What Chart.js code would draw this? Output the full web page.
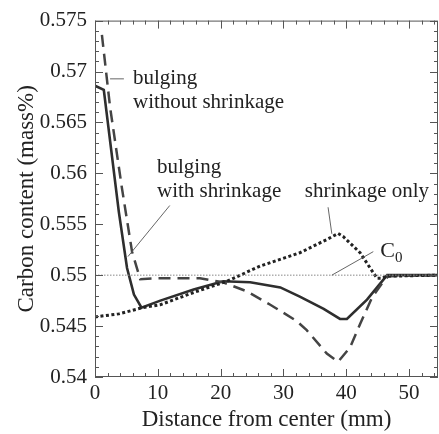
<!DOCTYPE html>
<html>
<head>
<meta charset="utf-8">
<script src="https://cdn.jsdelivr.net/npm/chart.js@4/dist/chart.umd.min.js"></script>
<style>
  html, body { margin: 0; padding: 0; background: #fff; }
  #wrap { width: 439px; height: 434px; position: relative; }
</style>
</head>
<body>
<div id="wrap"><canvas id="chart"></canvas></div>
<script>
// distance from center (mm) and carbon content (mass%)
const withShrinkX = [0, 1.4, 3.8, 5.1, 6.2, 7.4, 10.4, 15.7, 20.4, 24.7, 29.5, 32.6, 36.4, 39.0, 40.1, 43.3, 46.5, 54.6];
const withShrinkY = [0.5686, 0.5682, 0.5562, 0.5507, 0.5481, 0.5468, 0.5475, 0.5486, 0.5494, 0.5493, 0.5488, 0.5479, 0.5467, 0.5457, 0.5457, 0.5476, 0.5500, 0.5500];

const withoutShrinkX = [1.1, 2.4, 4.3, 5.9, 7.2, 10.1, 16.7, 20.4, 24.2, 27.9, 32.1, 33.7, 36.9, 38.7, 40.6, 42.2, 44.1, 45.7, 46.7, 54.6];
const withoutShrinkY = [0.5736, 0.5665, 0.5585, 0.5523, 0.5496, 0.5497, 0.5497, 0.5493, 0.5484, 0.5471, 0.5455, 0.5446, 0.5423, 0.5415, 0.5429, 0.5452, 0.5478, 0.5492, 0.5499, 0.5500];

const shrinkOnlyX = [0, 3.8, 7.5, 10.4, 15.7, 21.0, 26.3, 32.6, 36.9, 38.7, 39.5, 42.2, 43.8, 44.9, 45.7, 46.4, 54.6];
const shrinkOnlyY = [0.5459, 0.5462, 0.5468, 0.5471, 0.5483, 0.5494, 0.5509, 0.5522, 0.5535, 0.5541, 0.5538, 0.5522, 0.5507, 0.5497, 0.5497, 0.5499, 0.5500];

const c0 = 0.55;
const xMin = 0, xMax = 54.6;
const yMin = 0.54, yMax = 0.575;

const xTickValues = [0, 10, 20, 30, 40, 50];
const xTickLabels = ['0', '10', '20', '30', '40', '50'];
const yTickValues = [0.54, 0.545, 0.55, 0.555, 0.56, 0.565, 0.57, 0.575];
const yTickLabels = ['0.54', '0.545', '0.55', '0.555', '0.56', '0.565', '0.57', '0.575'];

const serif = '"Liberation Serif", "DejaVu Serif", serif';
const ink = '#222';

function pts(xs, ys) {
  return xs.map((x, i) => ({ x: x, y: ys[i] }));
}

// text labels and leader lines, in data units
const notes = [
  { text: 'bulging', x: 6.05, y: 0.56880 },
  { text: 'without shrinkage', x: 6.05, y: 0.56640 },
  { text: 'bulging', x: 9.87, y: 0.56007 },
  { text: 'with shrinkage', x: 9.87, y: 0.55765 },
  { text: 'shrinkage only', x: 33.4, y: 0.55765 }
];
const leaders = [
  [2.4, 0.56928, 4.6, 0.56928],
  [11.9, 0.55684, 5.25, 0.55183],
  [37.1, 0.55667, 37.7, 0.55406],
  [44.3, 0.55231, 37.7, 0.55]
];

const framePlugin = {
  id: 'frame',
  afterDatasetsDraw(chart) {
    const ctx = chart.ctx;
    const a = chart.chartArea;
    const xs = chart.scales.x, ys = chart.scales.y;
    ctx.save();
    ctx.strokeStyle = '#555';
    ctx.lineWidth = 1;
    ctx.strokeRect(a.left + 0.5, a.top + 0.5, a.right - a.left - 1, a.bottom - a.top - 1);
    ctx.beginPath();
    for (let v = 0; v <= xMax + 0.001; v += 2) {
      const px = Math.round(xs.getPixelForValue(v)) + 0.5;
      const len = (Math.round(v) % 10 === 0) ? 8 : 4;
      ctx.moveTo(px, a.bottom); ctx.lineTo(px, a.bottom - len);
      ctx.moveTo(px, a.top); ctx.lineTo(px, a.top + len);
    }
    for (let k = 0; k <= 35; k++) {
      const v = yMin + k * 0.001;
      const py = Math.round(ys.getPixelForValue(v)) + 0.5;
      const len = (k % 5 === 0) ? 8 : 4;
      ctx.moveTo(a.left, py); ctx.lineTo(a.left + len, py);
      ctx.moveTo(a.right, py); ctx.lineTo(a.right - len, py);
    }
    ctx.stroke();

    // leader lines
    ctx.strokeStyle = '#555';
    ctx.lineWidth = 0.9;
    ctx.beginPath();
    leaders.forEach(l => {
      ctx.moveTo(xs.getPixelForValue(l[0]), ys.getPixelForValue(l[1]));
      ctx.lineTo(xs.getPixelForValue(l[2]), ys.getPixelForValue(l[3]));
    });
    ctx.stroke();

    ctx.fillStyle = ink;
    ctx.font = '21px ' + serif;
    ctx.textBaseline = 'alphabetic';
    ctx.textAlign = 'left';
    notes.forEach(n => {
      ctx.fillText(n.text, xs.getPixelForValue(n.x), ys.getPixelForValue(n.y));
    });
    // C0 with subscript
    const cx = xs.getPixelForValue(45.4), cy = ys.getPixelForValue(0.5518);
    ctx.font = '22px ' + serif;
    ctx.fillText('C', cx, cy);
    const w = ctx.measureText('C').width;
    ctx.font = '15px ' + serif;
    ctx.fillText('0', cx + w, cy + 5);
    ctx.restore();
  }
};

new Chart(document.getElementById('chart'), {
  type: 'line',
  data: {
    datasets: [
      {
        label: 'C0',
        data: pts([xMin, xMax], [c0, c0]),
        borderColor: '#888',
        borderWidth: 1,
        borderDash: [1.5, 1.5],
        pointRadius: 0
      },
      {
        label: 'shrinkage only',
        data: pts(shrinkOnlyX, shrinkOnlyY),
        borderColor: '#222',
        borderWidth: 3,
        borderDash: [3, 2.5],
        pointRadius: 0
      },
      {
        label: 'bulging without shrinkage',
        data: pts(withoutShrinkX, withoutShrinkY),
        borderColor: '#444',
        borderWidth: 2.5,
        borderDash: [12, 7],
        pointRadius: 0
      },
      {
        label: 'bulging with shrinkage',
        data: pts(withShrinkX, withShrinkY),
        borderColor: '#2e2e2e',
        borderWidth: 2.6,
        pointRadius: 0
      }
    ]
  },
  options: {
    responsive: true,
    maintainAspectRatio: false,
    animation: false,
    layout: { padding: { top: 16, right: 1, left: 0, bottom: 0 } },
    plugins: { legend: { display: false }, tooltip: { enabled: false } },
    scales: {
      x: {
        type: 'linear',
        min: xMin,
        max: xMax,
        afterFit: s => { s.height = 57; },
        afterBuildTicks: s => { s.ticks = xTickValues.map(v => ({ value: v })); },
        grid: { display: false, drawTicks: false },
        border: { display: false },
        ticks: {
          color: ink,
          font: { family: serif, size: 21 },
          padding: 4,
          maxRotation: 0,
          callback: (v, i) => xTickLabels[i]
        },
        title: {
          display: true,
          text: 'Distance from center (mm)',
          color: ink,
          font: { family: serif, size: 23 },
          padding: { top: 0, bottom: 0 }
        }
      },
      y: {
        type: 'linear',
        min: yMin,
        max: yMax,
        afterFit: s => { s.width = 95; },
        afterBuildTicks: s => { s.ticks = yTickValues.map(v => ({ value: v })); },
        grid: { display: false, drawTicks: false },
        border: { display: false },
        ticks: {
          color: ink,
          font: { family: serif, size: 21 },
          padding: 8,
          callback: (v, i) => yTickLabels[i]
        },
        title: {
          display: true,
          text: 'Carbon content (mass%)',
          color: ink,
          font: { family: serif, size: 23 },
          padding: { top: 13, bottom: 0 }
        }
      }
    }
  },
  plugins: [framePlugin]
});
</script>
</body>
</html>
